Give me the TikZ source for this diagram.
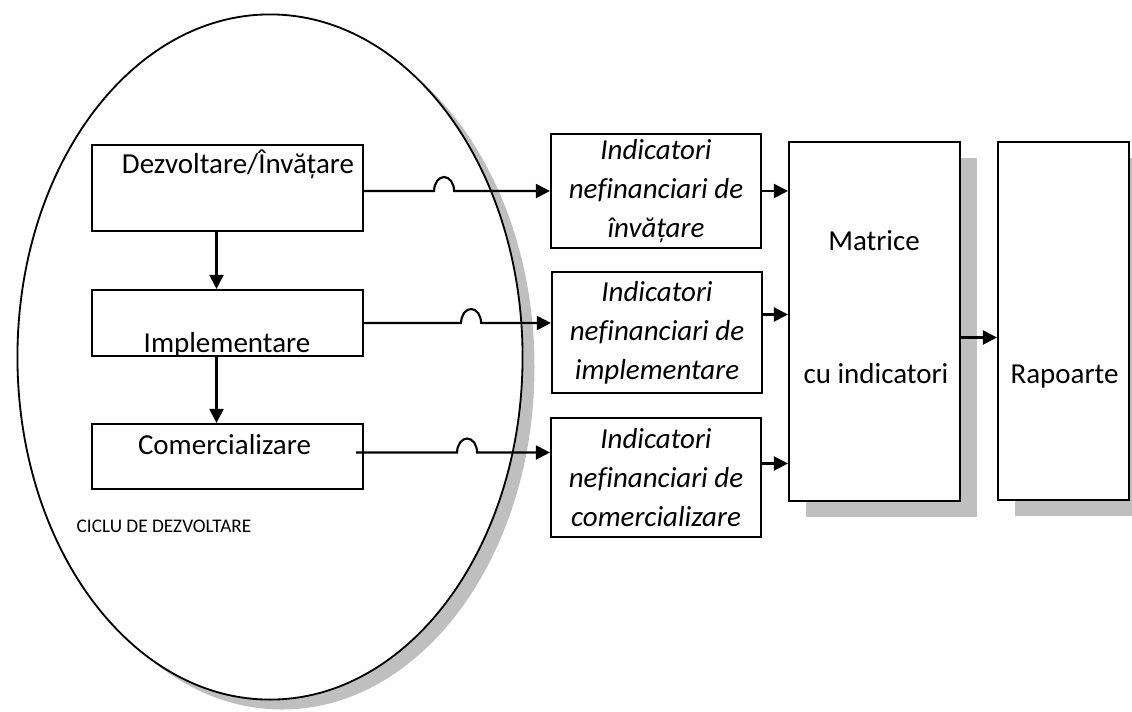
\documentclass[tikz,border=0pt]{standalone}
\usepackage{fontspec}
\setmainfont{Carlito}[Ligatures=NoCommon]
\usepackage{tikz}
\usetikzlibrary{arrows.meta,shapes.geometric,calc}
\definecolor{shadowgray}{HTML}{BFBFBF}
\newcommand{\upx}{0.7113pt}

\begin{document}
\begin{tikzpicture}[x=0.025cm,y=-0.025cm,>={Triangle[length=10pt,width=10pt]},
  box/.style={draw,line width=1.5pt,fill=white,inner sep=0pt},
  indbox/.style={box,align=center,minimum width=210*\upx,font=\itshape\fontsize{20.6}{27.7}\selectfont},
  txt/.style={inner sep=0pt,font=\fontsize{20.6}{27.7}\selectfont},
  conn/.style={->,line width=1.5pt},
  jump/.style={start angle=180,end angle=360,x radius=10,y radius=14}]
  \useasboundingbox (0,0) rectangle (1132,711);
  \fill[shadowgray] (282,367) ellipse [x radius=252.5,y radius=342.5];
  \node[ellipse,draw,line width=1.3pt,fill=white,inner sep=0pt,minimum width=505*\upx,minimum height=685*\upx] (ciclu) at (270,357) {};
  \node[box,minimum width=271*\upx,minimum height=86*\upx] (dezv) at (227.5,188) {};
  \node[box,minimum width=271*\upx,minimum height=66*\upx] (impl) at (227.5,323) {};
  \node[box,minimum width=271*\upx,minimum height=65*\upx] (comerc) at (227.5,456.5) {};
  \node[txt,anchor=base] (dezvt) at (238,173) {Dezvoltare/Învățare};
  \node[txt,anchor=base] (implt) at (227,352) {Implementare};
  \node[txt,anchor=base] (comerct) at (224.5,454) {Comercializare};
  \node[inner sep=0pt,anchor=base,font=\fontsize{13.7}{16}\selectfont] (ciclut) at (164,532) {CICLU DE DEZVOLTARE};
  \node[indbox,minimum height=114*\upx] (ind1) at (656,191) {Indicatori\\nefinanciari de\\învățare};
  \node[indbox,minimum height=121*\upx] (ind2) at (657,332.5) {Indicatori\\nefinanciari de\\implementare};
  \node[indbox,minimum height=119*\upx] (ind3) at (656,477.5) {Indicatori\\nefinanciari de\\comercializare};
  \fill[shadowgray] (806,158) rectangle (977,517);
  \fill[shadowgray] (1015,158) rectangle (1146,516);
  \node[box,minimum width=171*\upx,minimum height=359*\upx] (mat) at (874.5,321.5) {};
  \node[box,minimum width=131*\upx,minimum height=358*\upx] (rap) at (1063.5,321) {};
  \node[txt,anchor=base] (matt) at (874,250) {Matrice};
  \node[txt,anchor=base] (matb) at (876,383) {cu indicatori};
  \node[txt,anchor=base] (rapt) at (1064.5,383) {Rapoarte};
  \draw[conn] ([xshift=-11*\upx]dezv.south) -- ([xshift=-11*\upx]impl.north);
  \draw[conn] ([xshift=-11*\upx]impl.south) -- ([xshift=-11*\upx]comerc.north);
  \coordinate (c3) at ([xshift=-8*\upx,yshift=4*\upx]comerc.east);
  \draw[conn] (dezv.east |- ind1.west) -- ++(70,0) arc[jump] -- (ind1.west);
  \draw[conn] (impl.east) -- ++(97,0) arc[jump] -- (ind2.west |- impl.east);
  \draw[conn] (c3) -- ++(101,0) arc[jump] -- (ind3.west |- c3);
  \coordinate (a2) at ([yshift=18*\upx]ind2.east);
  \coordinate (a3) at ([yshift=14*\upx]ind3.east);
  \coordinate (m2r) at ([yshift=-16*\upx]mat.east);
  \draw[conn] (ind1.east) -- (mat.west |- ind1.east);
  \draw[conn] (a2) -- (mat.west |- a2);
  \draw[conn] (a3) -- (mat.west |- a3);
  \draw[conn] (m2r) -- (rap.west |- m2r);
\end{tikzpicture}
\end{document}
